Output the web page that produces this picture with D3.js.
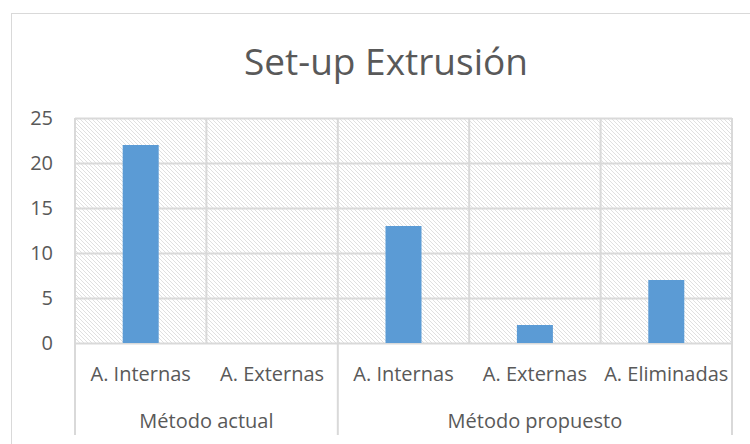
<!DOCTYPE html>
<html>
<head>
<meta charset="utf-8">
<script src="https://cdn.jsdelivr.net/npm/d3@7"></script>
<style>
  body { margin: 0; background: #fff; }
  text { font-family: "Open Sans", sans-serif; fill: #595959; }
</style>
</head>
<body>
<svg id="chart" width="750" height="444"></svg>
<script>
"use strict";
// data
const categories = ["A. Internas", "A. Externas", "A. Internas", "A. Externas", "A. Eliminadas"];
const groups     = ["Método actual", "Método actual", "Método propuesto", "Método propuesto", "Método propuesto"];
const values     = [22, 0, 13, 2, 7];
const yTicks     = [0, 5, 10, 15, 20, 25];
const title      = "Set-up Extrusión";

const margin = {top: 118, right: 18, bottom: 101, left: 75},
    width  = 750 - margin.left - margin.right,
    height = 444 - margin.top - margin.bottom;

const svg = d3.select("#chart");

// outer chart frame
svg.append("rect")
    .attr("x", 11.5).attr("y", 13.5)
    .attr("width", 760).attr("height", 440)
    .attr("fill", "#fff")
    .attr("stroke", "#d9d9d9");

// hatch pattern
const defs = svg.append("defs");
const pat = defs.append("pattern")
    .attr("id", "hatch")
    .attr("patternUnits", "userSpaceOnUse")
    .attr("width", 4).attr("height", 4);
pat.append("rect").attr("width", 4).attr("height", 4).attr("fill", "#fff");
pat.append("path")
    .attr("d", "M-1,-1 L5,5 M-1,3 L1,5 M3,-1 L5,1")
    .attr("stroke", "#e0e0e0")
    .attr("stroke-width", 1);

const g = svg.append("g")
    .attr("transform", "translate(" + margin.left + "," + margin.top + ")");

const idx = d3.range(values.length);
const xScale = d3.scaleBand().domain(idx).range([0, width]);
const yScale = d3.scaleLinear().domain([0, 25]).range([height, 0]);

g.append("rect")
    .attr("width", width).attr("height", height)
    .attr("fill", "url(#hatch)");

// gridlines
g.append("g").attr("class", "grid")
    .call(d3.axisLeft(yScale).tickValues(yTicks).tickSize(-width).tickFormat(""))
    .call(s => s.select(".domain").remove())
    .call(s => s.selectAll("line").attr("stroke", "#d9d9d9").attr("stroke-width", 2));

// vertical separators in plot
g.append("g")
    .selectAll("line")
    .data(d3.range(values.length + 1))
    .join("line")
    .attr("x1", i => i * xScale.step()).attr("x2", i => i * xScale.step())
    .attr("y1", 0).attr("y2", height)
    .attr("stroke", "#d9d9d9").attr("stroke-width", 2);

// bars
const barW = 36;
g.selectAll(".bar")
    .data(idx)
    .join("rect")
    .attr("class", "bar")
    .attr("x", i => xScale(i) + xScale.bandwidth() / 2 - barW / 2)
    .attr("y", i => yScale(values[i]))
    .attr("width", barW)
    .attr("height", i => height - yScale(values[i]))
    .attr("fill", "#5b9bd5");

// y axis labels
g.append("g")
    .call(d3.axisLeft(yScale).tickValues(yTicks).tickSize(0).tickPadding(22))
    .call(s => s.select(".domain").remove())
    .call(s => s.selectAll("text").style("font-size", "20px").attr("fill", "#595959")
        .style("font-family", "'Open Sans', sans-serif"));

// category axis: group separators below plot
const groupNames = Array.from(new Set(groups));
const bounds = [0];
groupNames.forEach(n => bounds.push(groups.lastIndexOf(n) + 1));
g.append("g")
    .selectAll("line")
    .data(bounds)
    .join("line")
    .attr("x1", i => i * xScale.step()).attr("x2", i => i * xScale.step())
    .attr("y1", height).attr("y2", height + 92)
    .attr("stroke", "#d9d9d9").attr("stroke-width", 2);

// level 1 labels
g.append("g")
    .selectAll("text")
    .data(idx)
    .join("text")
    .attr("x", i => xScale(i) + xScale.bandwidth() / 2)
    .attr("y", height + 38)
    .attr("text-anchor", "middle")
    .style("font-size", "20px")
    .text(i => categories[i]);

// level 2 labels
g.append("g")
    .selectAll("text")
    .data(groupNames)
    .join("text")
    .attr("x", (n, k) => (bounds[k] + bounds[k + 1]) / 2 * xScale.step())
    .attr("y", height + 85)
    .attr("text-anchor", "middle")
    .style("font-size", "20px")
    .text(n => n);

// title
svg.append("text")
    .attr("x", 386)
    .attr("y", 75)
    .attr("text-anchor", "middle")
    .style("font-size", "37px")
    .style("font-weight", 400)
    .text(title);
</script>
</body>
</html>
